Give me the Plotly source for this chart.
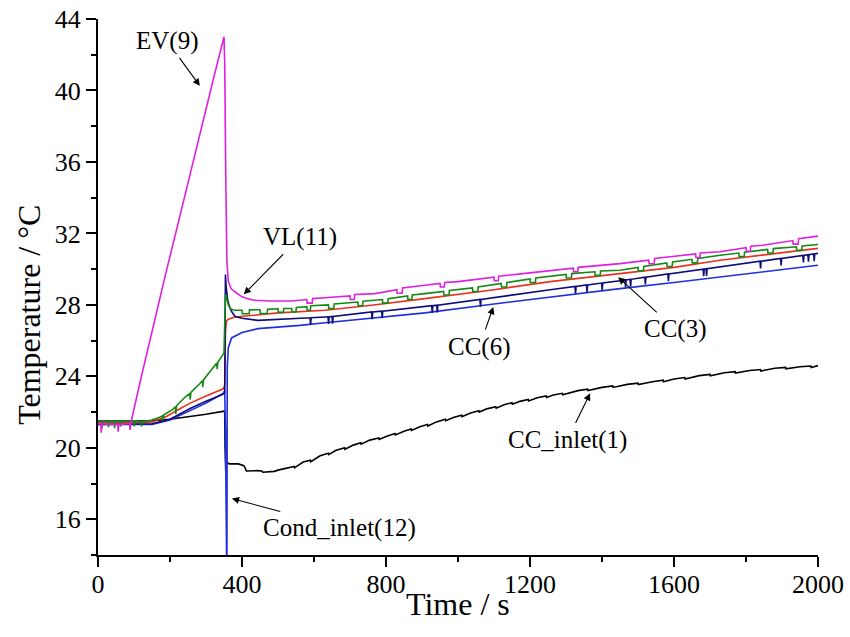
import plotly.graph_objects as go

# ---------------- data ----------------
# EV(9) - magenta
t_ev = [0, 8, 9, 11, 30, 55, 56, 58, 85, 88, 89, 91, 93.5, 120, 153, 190, 223, 260, 293, 320, 350,
        352, 355, 358, 362, 370, 381, 400, 420, 436, 480, 538,
        580, 581, 595, 596, 631, 700, 701, 712, 713, 769, 830, 831, 845, 846, 908, 950, 951, 962, 963,
        1000, 1100, 1101, 1112, 1113, 1180, 1256, 1320, 1321, 1333, 1334, 1450, 1530, 1531, 1545, 1546,
        1589, 1660, 1661, 1672, 1673, 1728, 1800, 1801, 1812, 1813, 1847, 1930, 1931, 1945, 1946, 2000]
v_ev = [21.35, 21.35, 20.85, 21.35, 21.3, 21.3, 20.9, 21.3, 21.35, 21.35, 21.0, 21.35, 21.6, 23.95, 26.8,
        29.9, 32.6, 35.7, 38.3, 40.6, 43.0,
        41.5, 35.0, 30.5, 29.3, 28.9, 28.72, 28.45, 28.32, 28.26, 28.22, 28.22,
        28.3, 28.1, 28.1, 28.35, 28.4, 28.5, 28.3, 28.3, 28.58, 28.63, 28.85, 28.65, 28.65, 28.95, 29.1,
        29.2, 29.0, 29.0, 29.25,
        29.3, 29.55, 29.35, 29.35, 29.6, 29.75, 29.9, 30.05, 29.85, 29.85, 30.1, 30.31, 30.5, 30.3, 30.3, 30.6,
        30.69, 30.85, 30.65, 30.65, 30.9, 30.97, 31.2, 31.0, 31.0, 31.28, 31.34, 31.6, 31.4, 31.4, 31.7, 31.85]

# green series
t_gr = [0, 10, 11, 13, 28, 29, 31, 45, 46, 48, 62, 63, 65, 100, 101, 103, 120, 121, 123, 150, 170, 180,
        181, 183, 208, 215, 216, 218, 240, 255, 256, 258, 283, 290, 291, 293, 320, 330, 331, 333, 350,
        352, 354, 358, 362, 370, 380,
        400, 401, 420, 421, 450, 451, 470, 471, 500, 501, 515, 516, 538, 539, 550, 551, 580, 581, 590, 591,
        640, 641, 655, 656, 722, 723, 735, 736, 790, 791, 805, 806, 860, 861, 872, 873, 908,
        960, 961, 975, 976, 1040, 1041, 1055, 1056, 1120, 1121, 1135, 1136, 1200, 1201, 1215, 1216, 1256,
        1300, 1301, 1315, 1316, 1380, 1381, 1395, 1396, 1450, 1500, 1501, 1515, 1516, 1580, 1581, 1595, 1596,
        1650, 1651, 1665, 1666, 1728, 1780, 1781, 1795, 1796, 1860, 1861, 1875, 1876, 1940, 1941, 1955, 1956,
        2000]
v_gr = [21.5, 21.5, 21.1, 21.5, 21.5, 21.15, 21.5, 21.5, 21.1, 21.5, 21.5, 21.2, 21.5, 21.5, 21.2, 21.5,
        21.45, 21.2, 21.45, 21.55, 21.7, 21.8,
        21.55, 21.85, 22.15, 22.3, 21.9, 22.35, 22.8, 23.05, 22.7, 23.1, 23.6, 23.75, 23.4, 23.8, 24.5, 24.75,
        24.4, 24.8, 25.3,
        26.5, 28.6, 28.3, 28.0, 27.75, 27.7,
        27.7, 27.5, 27.5, 27.72, 27.73, 27.52, 27.52, 27.75, 27.78, 27.58, 27.58, 27.8, 27.8, 27.6, 27.6, 27.85,
        27.9, 27.7, 27.7, 27.95,
        28.0, 27.8, 27.8, 28.05, 28.16, 27.95, 27.95, 28.2, 28.3, 28.1, 28.1, 28.35, 28.5, 28.3, 28.3, 28.55,
        28.63,
        28.75, 28.55, 28.55, 28.8, 28.95, 28.75, 28.75, 29.0, 29.2, 29.0, 29.0, 29.25, 29.45, 29.25, 29.25,
        29.5, 29.6,
        29.7, 29.5, 29.5, 29.75, 29.85, 29.65, 29.65, 29.9, 29.94, 30.1, 29.9, 29.9, 30.15, 30.35, 30.15, 30.15,
        30.4,
        30.55, 30.35, 30.35, 30.6, 30.78, 30.9, 30.7, 30.7, 30.95, 31.1, 30.9, 30.9, 31.15, 31.25, 31.05, 31.05,
        31.3,
        31.38]

# red series
t_rd = [0, 100, 150, 190, 220, 256, 300, 348, 352, 354, 357, 362, 381, 420, 500, 631, 760, 908, 1100,
        1256, 1450, 1600, 1728, 1850, 2000]
v_rd = [21.4, 21.4, 21.45, 21.75, 22.1, 22.5, 22.9, 23.3, 23.5, 26.5, 27.1, 27.2, 27.32, 27.4, 27.55,
        27.7, 27.98, 28.35, 28.85, 29.3, 29.75, 30.1, 30.5, 30.8, 31.16]

# navy series (with narrow downward spikes)
t_nv = [0, 150, 200, 256, 300, 348, 352, 354, 356, 360, 365, 372, 381, 400, 444, 520,
        589, 590.5, 592, 631, 639, 640.5, 642, 650, 651.5, 653, 760, 761.5, 763, 788, 789.5, 791,
        908, 927, 928.5, 930, 941, 942.5, 944, 1061, 1062.5, 1064, 1256,
        1325, 1326.5, 1328, 1357, 1358.5, 1360, 1399, 1400.5, 1402, 1450, 1464, 1465.5, 1467,
        1478, 1479.5, 1481, 1519, 1520.5, 1522, 1583, 1584.5, 1586, 1681, 1682.5, 1684, 1689, 1690.5, 1692,
        1728, 1839, 1840.5, 1842, 1896, 1897.5, 1899, 1958, 1959.5, 1961, 1972, 1973.5, 1975,
        1988, 1989.5, 1991, 2000]
v_nv = [21.3, 21.35, 21.6, 22.2, 22.6, 23.0, 23.1, 29.7, 29.0, 28.3, 27.9, 27.6, 27.35, 27.25, 27.13, 27.2,
        27.28, 26.88, 27.28, 27.32, 27.33, 26.93, 27.33, 27.35, 26.95, 27.35, 27.6, 27.2, 27.6, 27.65, 27.25,
        27.65,
        27.9, 27.95, 27.55, 27.95, 27.98, 27.58, 27.98, 28.3, 27.9, 28.3, 28.85,
        29.03, 28.63, 29.03, 29.11, 28.71, 29.11, 29.22, 28.82, 29.22, 29.35, 29.39, 28.99, 29.39,
        29.43, 29.03, 29.43, 29.55, 29.15, 29.55, 29.73, 29.33, 29.73, 30.0, 29.6, 30.0, 30.02, 29.62, 30.02,
        30.13, 30.44, 30.04, 30.44, 30.6, 30.2, 30.6, 30.77, 30.37, 30.77, 30.81, 30.41, 30.81,
        30.85, 30.45, 30.85, 30.88]

# Cond_inlet(12) - blue
t_bl = [0, 150, 200, 256, 300, 348, 352, 354, 356, 358, 359, 362, 371, 385, 400, 444, 561, 631, 728,
        908, 1100, 1256, 1450, 1600, 1728, 1850, 2000]
v_bl = [21.3, 21.3, 21.55, 22.1, 22.5, 23.05, 23.2, 21.0, 12.0, 12.0, 24.5, 25.6, 26.15, 26.3, 26.45,
        26.67, 26.85, 27.0, 27.2, 27.55, 28.05, 28.45, 28.91, 29.25, 29.56, 29.87, 30.22]

# CC_inlet(1) - black
t_bk = [0, 140, 200, 260, 300, 350, 352, 353, 355, 357, 365, 390, 405, 408, 412, 440, 455, 458, 490, 500,
        524, 545, 546, 570, 590, 591, 617, 640, 641, 660, 685, 686, 709, 730, 731, 755, 780, 781, 802,
        825, 826, 850, 870, 871, 894, 915, 916, 940, 965, 966, 987, 1010, 1011, 1035, 1058, 1059, 1080,
        1105, 1106, 1130, 1150, 1151, 1172, 1195, 1196, 1220, 1245, 1246, 1265, 1290, 1291, 1333,
        1360, 1361, 1400, 1430, 1431, 1470, 1500, 1501, 1540, 1570, 1571, 1600, 1630, 1631, 1670,
        1700, 1701, 1740, 1770, 1771, 1810, 1840, 1841, 1880, 1910, 1911, 1950, 1980, 1981, 2000]
v_bk = [21.5, 21.5, 21.6, 21.75, 21.88, 22.05, 22.0, 20.0, 18.6, 19.2, 19.1, 19.1, 19.0, 18.91, 18.7,
        18.72, 18.7, 18.63, 18.68, 18.75,
        18.85, 18.95, 18.88, 19.2, 19.3, 19.22, 19.55, 19.7, 19.62, 19.85, 20.0, 19.92, 20.15, 20.28, 20.2,
        20.43, 20.55, 20.47, 20.65,
        20.8, 20.72, 20.93, 21.05, 20.97, 21.18, 21.3, 21.22, 21.45, 21.6, 21.52, 21.7, 21.82, 21.74, 21.95,
        22.08, 22.0, 22.18,
        22.3, 22.22, 22.42, 22.52, 22.44, 22.6, 22.7, 22.62, 22.8, 22.9, 22.82, 22.95, 23.05, 22.97, 23.2,
        23.28, 23.2, 23.38, 23.46, 23.38, 23.55, 23.62, 23.54, 23.7, 23.78, 23.7, 23.85, 23.93, 23.85, 24.04,
        24.11, 24.03, 24.2, 24.26, 24.18, 24.33, 24.38, 24.3, 24.45, 24.5, 24.42, 24.54, 24.58, 24.5, 24.6]

# annotation labels: text, arrow-head time, arrow-head temperature, tail offsets (px)
labels = ["EV(9)", "VL(11)", "CC(6)", "CC(3)", "CC_inlet(1)", "Cond_inlet(12)"]
label_x = [283, 405, 1098, 1445, 1367, 372]
label_y = [40.26, 28.59, 27.88, 29.55, 23.05, 17.16]
label_ax = [-33, 56, -14, 57, -23, 108]
label_ay = [-45, -57, 40, 52, 47, 29]

x_ticks = [0, 400, 800, 1200, 1600, 2000]
y_ticks = [16, 20, 24, 28, 32, 36, 40, 44]
x_title = "Time / s"
y_title = "Temperature / °C"

# ---------------- figure ----------------
FONT = "Times New Roman"
fig = go.Figure()

series = [
    (t_bk, v_bk, "#000000", "CC_inlet(1)"),
    (t_bl, v_bl, "#1f2fe0", "Cond_inlet(12)"),
    (t_rd, v_rd, "#e8321e", "CC(3)"),
    (t_nv, v_nv, "#0c0c7a", "CC(6)"),
    (t_gr, v_gr, "#138a13", "VL(11)"),
    (t_ev, v_ev, "#e020e0", "EV(9)"),
]
for t, v, c, name in series:
    fig.add_trace(go.Scatter(x=t, y=v, mode="lines", name=name,
                             line=dict(color=c, width=1.6), hoverinfo="x+y+name"))

for txt, hx, hy, ax, ay in zip(labels, label_x, label_y, label_ax, label_ay):
    fig.add_annotation(x=hx, y=hy, ax=ax, ay=ay, text=txt, showarrow=True,
                       arrowhead=2, arrowsize=1.3, arrowwidth=1.1, arrowcolor="#000000",
                       standoff=0, startstandoff=2,
                       font=dict(family=FONT, size=25, color="#000000"))

# axis titles placed as paper annotations for exact positioning
fig.add_annotation(xref="paper", yref="paper", x=0.5, y=0, yshift=-49, showarrow=False,
                   text=x_title, xanchor="center", yanchor="middle",
                   font=dict(family=FONT, size=32, color="#000000"))
fig.add_annotation(xref="paper", yref="paper", x=0, y=0.448, xshift=-69, showarrow=False,
                   text=y_title, textangle=-90, xanchor="center", yanchor="middle",
                   font=dict(family=FONT, size=32, color="#000000"))

axis_common = dict(showline=True, linecolor="#000000", linewidth=2, mirror=False, automargin=False,
                   showgrid=False, zeroline=False, ticks="outside", ticklen=10, tickwidth=2,
                   tickcolor="#000000", ticklabeloverflow="allow",
                   tickfont=dict(family=FONT, size=26, color="#000000"))

fig.update_xaxes(range=[0, 2000], tickvals=x_ticks, ticktext=[str(v) for v in x_ticks],
                 ticklabelstandoff=-5,
                 minor=dict(tickvals=[200, 600, 1000, 1400, 1800], ticklen=5, tickwidth=2,
                            ticks="outside", tickcolor="#000000"),
                 **axis_common)
fig.update_yaxes(range=[14, 44], tickvals=y_ticks, ticktext=[str(v) for v in y_ticks],
                 minor=dict(tickvals=[14, 18, 22, 26, 30, 34, 38, 42], ticklen=5, tickwidth=2,
                            ticks="outside", tickcolor="#000000"),
                 **axis_common)

fig.update_layout(width=850, height=637, plot_bgcolor="#ffffff", paper_bgcolor="#ffffff",
                  margin=dict(l=98, r=32, t=19, b=82), showlegend=False,
                  font=dict(family=FONT, color="#000000"))

# remove the page's default body margin so the 850x637 figure fills the window exactly
fig.write_html("out.html", config={"displayModeBar": False},
               post_script="document.body.style.margin='0px';document.body.style.overflow='hidden';")
